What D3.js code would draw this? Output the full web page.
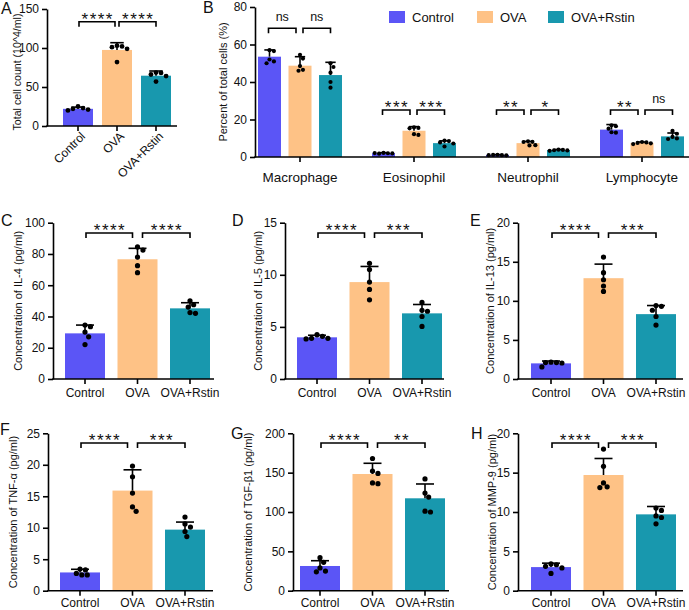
<!DOCTYPE html>
<html>
<head>
<meta charset="utf-8">
<script src="https://cdn.jsdelivr.net/npm/d3@7"></script>
<style>
body { margin: 0; background: #fff; }
svg text { font-family: "Liberation Sans", Arial, sans-serif; fill: #111; }
</style>
</head>
<body>
<div id="chart"></div>
<script>
const groups = ["Control", "OVA", "OVA+Rstin"];
const groupColors = ["#5b55f6", "#fec286", "#1898ae"];

// A - total cell count (10^4/ml)
const totalMean = [22, 97.5, 64.5];
const totalSd = [2.2, 9.3, 6];
const totalPoints = [[25, 23, 22, 21, 20], [103, 102, 101, 99, 82], [68.5, 68, 66, 64, 57]];
const totalSig = ["****", "****"];

// B - percent of total cells, by cell type then group
const cellTypes = ["Macrophage", "Eosinophil", "Neutrophil", "Lymphocyte"];
const pctMean = [[53.5, 48.7, 43.7], [2, 14, 7.4], [1.1, 7.4, 3.7], [14.6, 7.5, 11]];
const pctSd = [[3.6, 4.8, 6.8], [0.3, 2.2, 1.2], [0.15, 0.9, 0.3], [2.7, 0.5, 1.8]];
const pctPoints = [
    [[57, 56.5, 52, 51, 50], [54.5, 52.5, 48.5, 46.5, 46], [50, 48, 45, 40, 37]],
    [[2.2, 2.0, 1.8, 1.9, 2.1], [15.8, 15.5, 15.3, 12.2, 11.8], [8.8, 8.5, 7.8, 7.2, 5.6]],
    [[1.2, 1.0, 1.1, 0.9, 1.0], [8.4, 8.1, 8.0, 6.3, 6.2], [3.9, 3.8, 3.6, 3.5, 3.3]],
    [[16.9, 16.4, 15.1, 13.2, 13.0], [8.0, 7.8, 7.5, 7.3, 6.9], [13.9, 12.4, 10.7, 9.9, 9.6]]
];
const pctSig = [["ns", "ns"], ["***", "***"], ["**", "*"], ["**", "ns"]];

// C - IL-4
const il4Mean = [29.2, 76.6, 45.2];
const il4Sd = [5.3, 7, 3.6];
const il4Points = [[34.5, 33.5, 30, 27, 22], [84.5, 82.5, 78, 72.5, 68], [50, 47.5, 46, 42.5, 42]];
const il4Sig = ["****", "****"];

// D - IL-5
const il5Mean = [4.0, 9.3, 6.3];
const il5Sd = [0.2, 1.5, 0.85];
const il5Points = [[4.25, 4.1, 3.9, 3.9, 3.85], [11.1, 10.5, 9.3, 8.6, 7.6], [7.35, 6.6, 6.5, 6.0, 5.05]];
const il5Sig = ["****", "***"];

// E - IL-13
const il13Mean = [2.0, 12.9, 8.3];
const il13Sd = [0.3, 1.8, 1.1];
const il13Points = [[2.15, 2.1, 2.1, 2.05, 1.55], [15.6, 13.6, 12.7, 11.9, 11.2], [9.4, 9.3, 8.8, 8.0, 6.9]];
const il13Sig = ["****", "***"];

// F - TNF-alpha
const tnfMean = [2.9, 15.9, 9.7];
const tnfSd = [0.5, 3.3, 1.2];
const tnfPoints = [[3.45, 3.3, 2.75, 2.5, 2.5], [19.8, 18.1, 15.5, 13.3, 12.6], [11.7, 10.6, 10.1, 9.4, 8.6]];
const tnfSig = ["****", "***"];

// G - TGF-beta1
const tgfMean = [31.4, 148.3, 117.4];
const tgfSd = [6.7, 13.6, 18.2];
const tgfPoints = [[42, 36, 29, 25, 24], [168, 152, 149, 137, 136], [142, 124, 119, 101, 100]];
const tgfSig = ["****", "**"];

// H - MMP-9
const mmpMean = [3.0, 14.7, 9.7];
const mmpSd = [0.5, 2.1, 1.0];
const mmpPoints = [[3.4, 3.3, 3.1, 2.9, 2.2], [18, 15.8, 13.7, 13.2, 13.1], [10.5, 10.2, 9.5, 9.3, 8.5]];
const mmpSig = ["****", "***"];

const svg = d3.select("#chart").append("svg")
    .attr("width", 689)
    .attr("height", 610);

const LINE = 1.6;

function yAxis(g, y, cfg) {
    const ga = g.append("g")
        .attr("transform", `translate(${cfg.ax},0)`)
        .call(d3.axisLeft(y).tickValues(cfg.ticks).tickSize(5).tickSizeOuter(0).tickPadding(3));
    ga.select(".domain").attr("stroke", "#000").attr("stroke-width", LINE);
    ga.selectAll(".tick line").attr("stroke", "#000").attr("stroke-width", LINE);
    ga.selectAll(".tick text").attr("font-size", 12).attr("fill", "#111")
        .attr("font-family", '"Liberation Sans", Arial, sans-serif');
    const cy = cfg.titleY ?? (cfg.top + cfg.bottom) / 2;
    g.append("text")
        .attr("transform", `translate(${cfg.titleX},${cy}) rotate(-90)`)
        .attr("text-anchor", "middle")
        .attr("font-size", cfg.titleSize ?? 11)
        .text(cfg.title);
}

function xAxisLine(g, cfg, centers) {
    g.append("line")
        .attr("x1", cfg.ax - LINE / 2).attr("x2", cfg.xEnd)
        .attr("y1", cfg.bottom).attr("y2", cfg.bottom)
        .attr("stroke", "#000").attr("stroke-width", LINE);
    g.selectAll(null).data(centers).join("line")
        .attr("x1", d => d).attr("x2", d => d)
        .attr("y1", cfg.bottom).attr("y2", cfg.bottom + 5)
        .attr("stroke", "#000").attr("stroke-width", LINE);
}

// greedy beeswarm: keep every dot clear of the ones already placed
function swarm(values, y, r) {
    const placed = [];
    return values.map(v => {
        const py = y(v);
        let dx = 0;
        for (let k = 0; k < 40; k++) {
            const cand = k === 0 ? 0 : (k % 2 ? 1 : -1) * Math.ceil(k / 2) * r * 0.7;
            if (placed.every(p => Math.hypot(p.x - cand, p.y - py) >= r * 2.05)) { dx = cand; break; }
        }
        placed.push({ x: dx, y: py });
        return { x: dx, y: py };
    });
}

function drawBar(g, cx, w, y, mean, sd, pts, color, r) {
    g.append("rect")
        .attr("x", cx - w / 2).attr("width", w)
        .attr("y", y(mean)).attr("height", y(0) - y(mean))
        .attr("fill", color);
    const cap = w * 0.45;
    g.append("line")
        .attr("x1", cx).attr("x2", cx)
        .attr("y1", y(mean)).attr("y2", y(mean + sd))
        .attr("stroke", "#000").attr("stroke-width", LINE);
    g.append("line")
        .attr("x1", cx - cap / 2).attr("x2", cx + cap / 2)
        .attr("y1", y(mean + sd)).attr("y2", y(mean + sd))
        .attr("stroke", "#000").attr("stroke-width", LINE);
    g.selectAll(null).data(swarm(pts, y, r)).join("circle")
        .attr("cx", d => cx + d.x).attr("cy", d => d.y)
        .attr("r", r).attr("fill", "#000");
}

function bracket(g, x1, x2, by, label) {
    g.append("path")
        .attr("d", `M${x1},${by + 5}V${by}H${x2}V${by + 5}`)
        .attr("fill", "none").attr("stroke", "#000").attr("stroke-width", LINE);
    const stars = label !== "ns";
    g.append("text")
        .attr("x", (x1 + x2) / 2 + (stars ? 0.75 : 0))
        .attr("y", stars ? by + 3 : by - 7)
        .attr("text-anchor", "middle")
        .attr("font-size", stars ? 17 : 12.5)
        .attr("letter-spacing", stars ? 1.5 : 0)
        .text(label);
}

function panelLetter(x, y, t) {
    svg.append("text").attr("x", x).attr("y", y)
        .attr("font-size", 16).text(t);
}

function groupPanel(cfg, mean, sd, points, sig) {
    const g = svg.append("g");
    const y = d3.scaleLinear().domain([0, cfg.max]).range([cfg.bottom, cfg.top]);
    const x = d3.scalePoint().domain(groups).range(cfg.centers);
    groups.forEach((name, i) =>
        drawBar(g, x(name), cfg.barW, y, mean[i], sd[i], points[i], groupColors[i], cfg.r));
    yAxis(g, y, cfg);
    xAxisLine(g, cfg, groups.map(x));
    const gap = cfg.gap;
    bracket(g, x(groups[0]) + 1, x(groups[1]) - gap, cfg.bracketY, sig[0]);
    bracket(g, x(groups[1]) + gap, x(groups[2]), cfg.bracketY, sig[1]);
    if (cfg.rotate) {
        g.selectAll(null).data(groups).join("text")
            .attr("transform", d => `translate(${x(d) + 8},${cfg.bottom + 11}) rotate(-45)`)
            .attr("text-anchor", "end")
            .attr("font-size", 12)
            .text(d => d);
    } else {
        g.selectAll(null).data(groups).join("text")
            .attr("x", d => x(d)).attr("y", cfg.labelY)
            .attr("text-anchor", "middle")
            .attr("font-size", 12)
            .text(d => d);
    }
    panelLetter(cfg.letterX, cfg.letterY, cfg.letter);
}

// A
groupPanel({
    letter: "A", letterX: 1, letterY: 14,
    ax: 47, xEnd: 177, top: 9, bottom: 126, max: 150, ticks: [0, 50, 100, 150],
    centers: [78, 156], barW: 30, r: 2.4, gap: 2, bracketY: 21.7, rotate: true,
    title: "Total cell count (10^4/ml)", titleX: 21, titleY: 72, titleSize: 10.6
}, totalMean, totalSd, totalPoints, totalSig);

// B
(function () {
    const cfg = {
        ax: 255, xEnd: 689, top: 7, bottom: 157, max: 80, ticks: [0, 20, 40, 60, 80],
        title: "Percent of total cells (%)", titleX: 226.5
    };
    const g = svg.append("g");
    const y = d3.scaleLinear().domain([0, cfg.max]).range([cfg.bottom, cfg.top]);
    const x = d3.scalePoint().domain(cellTypes).range([300, 642]);
    const xi = d3.scalePoint().domain(groups).range([-30.5, 30.5]);
    const bracketYs = [28.3, 110, 110, 110];
    cellTypes.forEach((ct, c) => {
        groups.forEach((name, i) =>
            drawBar(g, x(ct) + xi(name), 23, y, pctMean[c][i], pctSd[c][i], pctPoints[c][i], groupColors[i], 2.1));
        const c0 = x(ct) + xi(groups[0]), c1 = x(ct) + xi(groups[1]), c2 = x(ct) + xi(groups[2]);
        bracket(g, c0 - 1, c1 - 4, bracketYs[c], pctSig[c][0]);
        bracket(g, c1 + 3, c2, bracketYs[c], pctSig[c][1]);
    });
    yAxis(g, y, cfg);
    xAxisLine(g, cfg, cellTypes.map(x));
    g.selectAll(null).data(cellTypes).join("text")
        .attr("x", d => x(d)).attr("y", 182)
        .attr("text-anchor", "middle")
        .attr("font-size", 13.5)
        .text(d => d);
    // legend
    const legX = [389, 477, 548];
    groups.forEach((name, i) => {
        g.append("rect").attr("x", legX[i]).attr("y", 11)
            .attr("width", 16).attr("height", 12).attr("fill", groupColors[i]);
        g.append("text").attr("x", legX[i] + 23).attr("y", 21.5)
            .attr("font-size", 13).text(name);
    });
    panelLetter(203, 13, "B");
})();

// C, D, E
const rowTop = { top: 222.7, bottom: 379, bracketY: 233, labelY: 397, barW: 40, r: 2.6, gap: 5, letterY: 226 };
groupPanel(Object.assign({}, rowTop, {
    letter: "C", letterX: 1, ax: 53, xEnd: 214, centers: [85, 190],
    max: 100, ticks: [0, 20, 40, 60, 80, 100],
    title: "Concentration of IL-4 (pg/ml)", titleX: 22
}), il4Mean, il4Sd, il4Points, il4Sig);
groupPanel(Object.assign({}, rowTop, {
    letter: "D", letterX: 232, ax: 285, xEnd: 444, centers: [317, 422],
    max: 15, ticks: [0, 5, 10, 15],
    title: "Concentration of IL-5 (pg/ml)", titleX: 262
}), il5Mean, il5Sd, il5Points, il5Sig);
groupPanel(Object.assign({}, rowTop, {
    letter: "E", letterX: 470, ax: 518, xEnd: 683, centers: [551, 656],
    max: 20, ticks: [0, 5, 10, 15, 20],
    title: "Concentration of IL-13 (pg/ml)", titleX: 494
}), il13Mean, il13Sd, il13Points, il13Sig);

// F, G, H
const rowBottom = { top: 433.3, bottom: 590.7, bracketY: 443, labelY: 607, barW: 40, r: 2.6, gap: 5, letterY: 439 };
groupPanel(Object.assign({}, rowBottom, {
    letter: "F", letterX: 0, letterY: 435, ax: 48, xEnd: 213, centers: [80, 185],
    max: 25, ticks: [0, 5, 10, 15, 20, 25],
    title: "Concentration of TNF-α (pg/ml)", titleX: 17
}), tnfMean, tnfSd, tnfPoints, tnfSig);
groupPanel(Object.assign({}, rowBottom, {
    letter: "G", letterX: 231, ax: 293, xEnd: 449, centers: [320, 425],
    max: 200, ticks: [0, 50, 100, 150, 200],
    title: "Concentration of TGF-β1 (pg/ml)", titleX: 252
}), tgfMean, tgfSd, tgfPoints, tgfSig);
groupPanel(Object.assign({}, rowBottom, {
    letter: "H", letterX: 471, ax: 518, xEnd: 683, centers: [551, 656],
    max: 20, ticks: [0, 5, 10, 15, 20],
    title: "Concentration of MMP-9 (pg/ml)", titleX: 496
}), mmpMean, mmpSd, mmpPoints, mmpSig);
</script>
</body>
</html>
